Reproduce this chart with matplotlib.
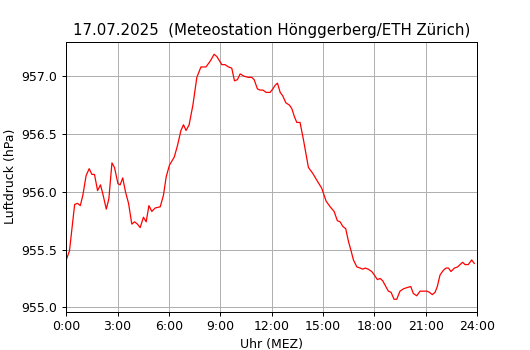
import numpy as np
import matplotlib
matplotlib.use('Agg')
import matplotlib.pyplot as plt

# Stunden seit Mitternacht und Luftdruck (hPa)
hours = [0.0, 0.19, 0.49, 0.66, 0.82, 0.97, 1.16, 1.34, 1.5, 1.65, 1.83, 2.0, 2.14, 2.34, 2.49,
         2.67, 2.82, 3.02, 3.15, 3.3, 3.46, 3.64, 3.83, 3.99, 4.16, 4.32, 4.51, 4.67, 4.83, 5.0,
         5.2, 5.49, 5.68, 5.84, 6.03, 6.31, 6.5, 6.7, 6.85, 7.0, 7.18, 7.4, 7.63, 7.87, 8.16,
         8.41, 8.64, 8.8, 9.09, 9.28, 9.48, 9.67, 9.83, 10.0, 10.16, 10.39, 10.64, 10.84, 10.98,
         11.17, 11.33, 11.49, 11.68, 11.91, 12.07, 12.2, 12.34, 12.5, 12.65, 12.83, 13.04, 13.18,
         13.33, 13.47, 13.66, 13.86, 14.15, 14.4, 14.64, 14.93, 15.18, 15.42, 15.65, 15.84, 16.0,
         16.16, 16.33, 16.49, 16.64, 16.78, 16.98, 17.17, 17.33, 17.46, 17.65, 17.85, 18.0, 18.18,
         18.34, 18.49, 18.67, 18.82, 18.98, 19.15, 19.31, 19.5, 19.7, 19.89, 20.13, 20.28, 20.48,
         20.67, 20.87, 21.07, 21.22, 21.39, 21.55, 21.68, 21.84, 22.03, 22.19, 22.33, 22.48, 22.68,
         22.87, 23.01, 23.16, 23.3, 23.49, 23.69, 23.84]
pressure = [955.41, 955.49, 955.89, 955.90, 955.88, 955.97, 956.14, 956.20, 956.15, 956.15, 956.01,
            956.06, 955.98, 955.85, 955.94, 956.25, 956.21, 956.07, 956.06, 956.12, 956.00, 955.90,
            955.72, 955.74, 955.72, 955.69, 955.78, 955.74, 955.88, 955.83, 955.86, 955.87, 955.97,
            956.13, 956.23, 956.30, 956.40, 956.53, 956.58, 956.53, 956.58, 956.75, 956.99, 957.08,
            957.08, 957.13, 957.19, 957.17, 957.10, 957.10, 957.08, 957.07, 956.96, 956.97, 957.02,
            957.00, 956.99, 956.99, 956.97, 956.89, 956.88, 956.88, 956.86, 956.86, 956.89, 956.92,
            956.94, 956.86, 956.83, 956.77, 956.75, 956.72, 956.65, 956.60, 956.60, 956.45, 956.21,
            956.16, 956.10, 956.03, 955.92, 955.87, 955.83, 955.75, 955.74, 955.70, 955.68, 955.57,
            955.49, 955.41, 955.35, 955.34, 955.33, 955.34, 955.33, 955.31, 955.28, 955.24, 955.25,
            955.23, 955.18, 955.14, 955.13, 955.07, 955.07, 955.14, 955.16, 955.17, 955.18, 955.12,
            955.10, 955.14, 955.14, 955.14, 955.13, 955.11, 955.13, 955.18, 955.28, 955.32, 955.34,
            955.34, 955.31, 955.34, 955.35, 955.37, 955.39, 955.37, 955.37, 955.41, 955.38]
xticks = [0, 3, 6, 9, 12, 15, 18, 21, 24]
xticklabels = ['0:00', '3:00', '6:00', '9:00', '12:00', '15:00', '18:00', '21:00', '24:00']

# dpi 90 -> alles etwas kleiner, wie im Original
fig, ax = plt.subplots(figsize=(530 / 90, 350 / 90), dpi=90)
ax.plot(hours, pressure, color='red', linewidth=1)
ax.set_xlim(0, 24)
ax.set_xticks(xticks)
ax.set_xticklabels(xticklabels)
ax.yaxis.set_major_formatter(matplotlib.ticker.FormatStrFormatter('%.1f'))
ax.grid(True)
ax.set_xlabel('Uhr (MEZ)')
ax.set_ylabel('Luftdruck (hPa)')
ax.set_title('17.07.2025  (Meteostation Hönggerberg/ETH Zürich)')
plt.savefig('out.png', dpi=90)
